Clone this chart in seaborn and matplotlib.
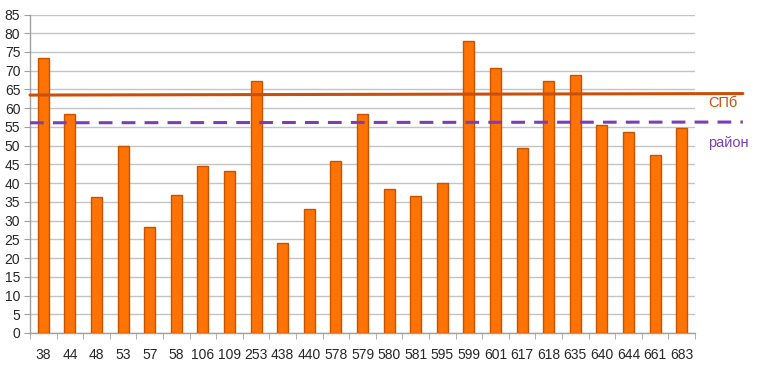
import pandas as pd
import matplotlib
matplotlib.use('Agg')
import matplotlib.pyplot as plt
import seaborn as sns

# --- data ---
schools = ['38', '44', '48', '53', '57', '58', '106', '109', '253', '438', '440', '578', '579',
           '580', '581', '595', '599', '601', '617', '618', '635', '640', '644', '661', '683']
scores = [73.5, 58.5, 36.3, 50.0, 28.2, 36.9, 44.6, 43.3, 67.2, 24.1, 33.1, 46.0, 58.4,
          38.3, 36.5, 39.9, 77.9, 70.8, 49.3, 67.2, 68.8, 55.6, 53.6, 47.5, 54.8]
spb_level = [63.5, 63.9]      # city average (start, end)
rayon_level = [56.1, 56.3]    # district average (start, end)
y_ticks = list(range(0, 90, 5))

df = pd.DataFrame({'school': schools, 'score': scores})

sns.set_style('white')
plt.rcParams['font.family'] = ['Liberation Sans', 'DejaVu Sans']

fig = plt.figure(figsize=(7.62, 3.65), dpi=100)
ax = fig.add_axes([30 / 762, 32 / 365, 665 / 762, 318.5 / 365])

sns.barplot(data=df, x='school', y='score', color='#FF7204', saturation=1,
            width=0.42, edgecolor='#C65400', linewidth=1.0, ax=ax, zorder=3)

# reference lines run past the plot area into the label zone
x_end = len(schools) - 0.5 + 1.8
ax.plot([-0.5, x_end], spb_level, color='#C8500A', lw=2.2, clip_on=False, zorder=4)
ax.plot([-0.5, x_end], rayon_level, color='#7B3FB5', lw=2.2, ls=(0, (4.5, 3)),
        clip_on=False, zorder=4)
ax.text(len(schools) - 0.5 + 0.5, 61.4, 'СПб', color='#C8500A', fontsize=10.5,
        va='center', ha='left')
ax.text(len(schools) - 0.5 + 0.5, 50.6, 'район', color='#7B3FB5', fontsize=10.5,
        va='center', ha='left')

ax.set_xlim(-0.5, len(schools) - 0.5)
ax.set_ylim(0, 85)
ax.set_yticks(y_ticks)
ax.yaxis.grid(True, color='#C4C4C4', lw=1.0, zorder=0)
ax.set_axisbelow(True)

ax.set_xlabel('')
ax.set_ylabel('')
ax.tick_params(axis='y', labelsize=10, length=4, color='#A0A0A0', left=True, pad=3)
ax.tick_params(axis='x', labelsize=10, length=0, pad=11)
ax.set_xticks([i + 0.5 for i in range(-1, len(schools))], minor=True)
ax.tick_params(axis='x', which='minor', length=4, color='#A0A0A0', bottom=True)

for side in ['top', 'right']:
    ax.spines[side].set_visible(False)
for side in ['left', 'bottom']:
    ax.spines[side].set_color('#A0A0A0')
    ax.spines[side].set_linewidth(1.0)

fig.savefig('out.png', dpi=100)
